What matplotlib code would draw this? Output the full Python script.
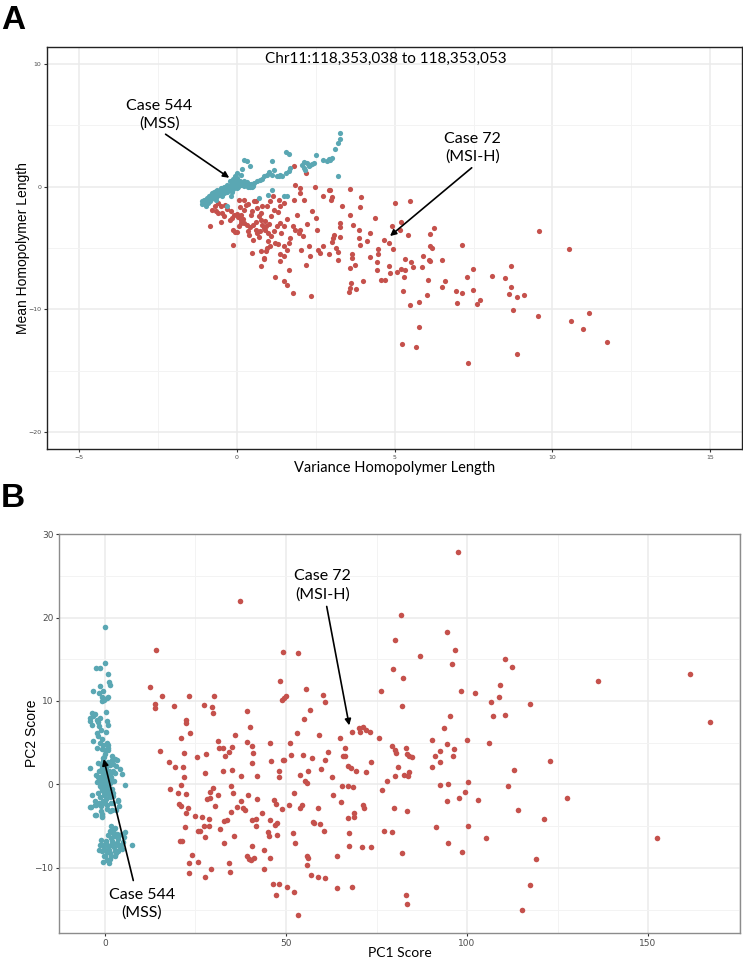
import matplotlib
matplotlib.use("Agg")
import matplotlib.pyplot as plt
import numpy as np

# ---------------- Panel A data (variance vs mean homopolymer length) ----------------
a_msi_x = [3.60, 2.97, 3.93, 3.02, 3.00, 5.02, 5.49, 3.33, 3.91, 3.60, 4.38, 3.26, 3.28, 3.68,
           5.21, 4.91, 3.88, 4.23, 5.18, 6.26, 6.11, 3.07, 3.04, 3.26, 3.87, 4.14, 4.68, 4.81,
           5.43, 3.02, 3.91, 4.47, 4.94, 6.12, 6.18, 7.15, 9.56, 10.52, 3.15, 3.20, 3.20, 3.65,
           3.66, 4.23, 4.47, 5.32, 5.52, 5.91, 6.08, 6.13, 6.50, 3.60, 3.74, 4.44, 4.81, 4.46,
           4.85, 5.07, 5.21, 5.32, 5.57, 5.87, 7.47, 7.28, 8.08, 8.49, 8.70, 5.29, 6.05, 6.60,
           6.49, 4.00, 4.57, 4.69, 3.61, 3.58, 3.56, 3.79, 5.26, 5.50, 5.77, 6.03, 6.96, 7.15,
           7.47, 6.98, 7.62, 7.70, 8.70, 8.62, 8.87, 9.11, 8.76, 9.53, 10.58, 10.98, 11.16, 5.76,
           5.24, 5.69, 7.33, 8.89, 11.74,
           -0.85, -0.50, -0.77, -0.64, -0.58, -0.46, -0.68, -0.50, -0.38, -0.19, -0.16, -0.21,
           -0.08, 0.03, 0.13, 0.11, 0.23, 0.23, 0.07, 0.36, -0.11, -0.06, 0.00, 0.09, 0.15, 0.23,
           0.34, 0.44, 0.53, 0.60, 0.70, 0.76, 0.81, 0.86, 0.94, 1.02, 0.76, 0.65, 0.60, -0.11,
           0.39, 0.53, 0.65, 0.74, 0.89, 1.00, 1.09, 1.18, 1.28, 1.39, 1.49, 0.49, 0.76, 0.86,
           0.93, 1.07, 1.21, 1.30, 1.39, 1.49, 1.60, 1.65, 0.77, 0.87, 1.23, 1.37, 1.49, 1.51,
           1.60, 1.78, 1.65, 0.97, 1.07, 1.16, 1.34, 1.37, 1.49, 1.81, 1.81, 1.86, 2.00, 2.02,
           2.12, 2.19, 1.91, 1.86, 1.97, 2.02, 2.10, 2.23, 2.04, 2.28, 2.21, 2.33, 2.36, 2.49,
           2.52, 2.54, 2.57, 2.65, 2.75, 2.73, 2.91, 2.91,
           0.30, 0.50, 0.80, 0.20, 0.45, 0.90, 1.10, 0.35, 0.60, 1.20, -0.30, -0.40, 0.00, 0.70,
           1.00, 1.40, 1.60, 1.80, 0.55, 1.30, -0.60, 0.15, 0.95, 1.70, 2.40]
a_msi_y = [-0.19, -0.30, -0.82, -0.84, -1.09, -1.36, -1.20, -1.61, -1.66, -2.31, -2.59, -2.94,
           -3.32, -3.10, -2.88, -3.24, -3.54, -3.76, -3.51, -3.37, -3.89, -3.92, -4.19, -4.14,
           -4.16, -4.46, -4.35, -4.60, -3.97, -4.54, -4.76, -5.09, -5.12, -4.82, -5.03, -4.79,
           -3.59, -5.06, -5.03, -5.36, -5.96, -5.85, -5.50, -5.71, -5.47, -5.90, -6.12, -5.69,
           -5.96, -6.10, -6.01, -6.64, -6.39, -6.12, -6.45, -6.80, -7.05, -6.99, -6.69, -6.80,
           -6.56, -6.56, -6.75, -7.40, -7.32, -7.46, -6.48, -7.40, -7.65, -7.67, -8.16, -7.70,
           -7.62, -7.62, -7.89, -8.27, -8.60, -8.38, -8.54, -9.66, -9.39, -8.87, -8.49, -8.65,
           -8.46, -9.47, -9.61, -9.22, -8.22, -8.79, -8.98, -8.82, -10.04, -10.53, -10.97,
           -11.65, -10.29, -11.48, -12.87, -13.09, -14.37, -13.63, -12.67,
           -3.18, -2.86, -1.88, -2.01, -2.15, -2.15, -1.61, -1.55, -1.47, -2.01, -2.56, -2.69,
           -2.29, -2.48, -2.29, -1.66, -1.88, -1.06, -1.06, -1.41, -3.51, -3.73, -3.73, -3.24,
           -2.69, -2.97, -3.10, -3.29, -3.10, -2.91, -2.42, -2.69, -3.10, -3.37, -3.18, -3.02,
           -2.15, -1.74, -1.20, -4.79, -3.92, -4.33, -3.78, -3.65, -3.56, -3.78, -4.05, -3.65,
           -3.24, -2.97, -3.18, -5.41, -5.28, -5.82, -5.28, -4.87, -4.60, -4.65, -5.50, -4.87,
           -5.14, -4.60, -6.50, -5.90, -7.37, -6.10, -5.69, -7.73, -8.00, -8.68, -6.78, -1.61,
           -1.20, -0.79, -1.06, -1.55, -1.33, -1.06, 1.71, 0.16, -0.11, -0.52, -1.06, 1.12,
           -2.29, -3.51, -3.78, -3.51, -4.05, -3.02, -5.14, -4.87, -6.37, -5.69, -8.95, -0.03,
           -2.56, -3.51, -5.14, -5.41, -0.79, -4.87, -0.24, -5.47,
           -1.50, -2.00, -1.60, -2.60, -2.30, -2.80, -2.40, -3.60, -3.50, -1.90, -1.80, -2.40,
           -2.20, -4.10, -4.40, -3.80, -2.60, -3.20, -1.20, -2.10, -1.30, -3.00, -5.00, -4.20,
           -2.00]

a_mss_x = [-1.03, -1.08, -0.98, -0.93, -0.87, -0.82, -0.77, -0.72, -0.66, -0.61, -0.56, -0.50,
           -0.45, -0.40, -0.35, -0.29, -0.24, -0.19, -0.14, -0.08, -0.03, 0.02, 0.07, 0.13, 0.18,
           0.23, 0.28, 0.34, 0.39, 0.44, -0.87, -0.77, -0.66, -0.98, -0.29, -0.19, -0.45, -0.61,
           0.00, 0.13, 0.23, 0.32, 0.44, 0.18, 0.53, 0.65, 0.74, 0.81, 0.86, 0.97, 1.02, 1.13,
           1.18, 1.34, 1.28, 1.39, 1.44, 1.55, 1.65, 1.68, 1.13, 0.99, 0.70, 1.13, 1.49, 1.60,
           1.55, 1.66, 2.07, 2.12, 2.18, 2.23, 2.28, 2.33, 2.39, 2.44, 2.15, 2.51, 2.73, 2.86,
           2.91, 2.97, 3.02, 3.12, 3.20, 3.26, 3.28, 3.21,
           -1.00, -0.95, -0.90, -0.85, -0.80, -0.75, -0.70, -0.65, -0.60, -0.55, -0.50, -0.45,
           -0.40, -0.35, -0.30, -0.25, -0.20, -0.15, -0.10, -0.05, 0.00, 0.05, 0.10, 0.15, 0.20,
           0.25, 0.30, 0.35, -0.60, -0.50, -0.40, -0.30, -0.20, -0.10, 0.00, -0.70, -0.80, -0.90,
           -1.10, -0.15, 0.05, 0.20, 0.00, -0.10, -0.05, 0.45, 0.55, 0.50,
           -0.95, -0.85, -0.75, -0.65, -0.55, -0.45, -0.35, -0.25, -0.15, -0.05, 0.05, 0.15,
           0.25, 0.40, -0.70, -0.50, -0.30, -0.10, 0.10, -0.20]
a_mss_y = [-1.06, -1.20, -1.33, -0.93, -0.79, -0.65, -0.52, -0.79, -0.38, -0.24, -0.52, -0.11,
           -0.38, -0.03, -0.24, 0.08, -0.11, 0.16, -0.03, 0.30, 0.08, 0.44, 0.16, 0.35, 0.24,
           0.44, 0.30, 0.35, 0.16, -0.03, -1.20, -0.93, -1.06, -1.55, -1.61, -0.79, -0.79, -0.79,
           1.12, 0.98, 2.20, 2.07, 1.66, 1.44, 0.08, 0.44, 0.52, 0.63, 0.84, 0.98, 1.17, 0.98,
           1.39, 0.84, 0.90, 0.98, 0.90, 1.12, 1.25, 1.52, 2.07, -0.65, -0.93, -0.24, -0.79, -0.73,
           2.80, 2.69, 1.80, 1.52, 1.33, 1.93, 1.66, 1.80, 1.88, 1.93, 1.99, 2.61, 2.20, 2.12,
           2.26, 2.20, 2.34, 3.07, 3.56, 3.89, 4.38, 0.84,
           -1.20, -1.00, -1.10, -0.90, -0.80, -0.70, -0.60, -0.60, -0.50, -0.40, -0.40, -0.30,
           -0.20, -0.10, -0.10, 0.00, 0.00, 0.10, 0.10, 0.20, 0.20, 0.30, 0.20, 0.10, 0.10,
           0.20, 0.10, 0.00, -0.70, -0.60, -0.50, -0.40, -0.30, -0.20, -0.10, -0.90, -1.00, -1.30,
           -1.40, -0.40, 0.00, 0.30, 0.70, 0.60, 0.85, 0.20, 0.30, 0.00,
           -1.25, -1.15, -0.95, -0.85, -0.70, -0.60, -0.45, -0.30, -0.15, 0.00, 0.10, 0.25,
           0.05, 0.25, -0.40, -0.20, 0.10, 0.35, 0.50, 0.45]

# ---------------- Panel B data (PCA scores) ----------------
b_msi_x = [12.45, 14.15, 13.76, 13.9, 15.86, 15.33, 19.0, 17.56, 18.09, 19.4, 20.2, 21.1, 21.8,
           20.9, 22.3, 22.5, 23.3, 23.6, 21.5, 21.8, 20.4, 21.1, 22.5, 22.9, 22.4, 21.4, 20.7,
           22.2, 23.2, 23.3, 24.0, 25.4, 24.9, 25.6, 25.7, 26.3, 26.9, 27.3, 27.5, 27.4, 27.5,
           27.5, 28.0, 28.2, 28.6, 28.7, 29.4, 29.6, 29.9, 30.0, 29.1, 29.1, 29.9, 30.3, 31.2,
           31.5, 31.2, 31.8, 32.5, 32.5, 32.8, 33.0, 33.2, 33.6, 34.2, 34.3, 34.5, 34.7, 34.9,
           35.1, 35.1, 35.4, 35.5, 35.9, 36.4, 37.2, 37.5, 37.7, 38.1, 38.7, 39.1, 39.1, 39.4,
           39.3, 39.7, 40.1, 40.2, 40.5, 40.7, 40.7, 40.9, 40.7, 41.2, 41.7, 41.8, 41.9, 42.1,
           43.5, 43.8, 43.9, 45.0, 45.2, 45.5, 45.6, 45.6, 45.9, 46.5, 46.7, 47.2, 46.9, 47.4,
           47.4, 47.3, 48.0, 48.2, 48.2, 48.4, 48.8, 49.1, 49.5, 49.0, 49.1, 49.5, 49.9, 50.2,
           50.9, 51.1, 51.4, 51.9, 52.2, 52.3, 52.4, 53.1, 53.2, 53.4, 53.8, 54.0, 54.4, 54.8,
           54.9, 55.2, 55.4, 55.7, 56.1, 55.8, 56.1, 55.8, 56.6, 57.0, 57.3, 57.4, 57.7, 58.7,
           58.8, 59.1, 59.4, 59.8, 60.3, 60.7, 60.7, 60.8, 60.5, 61.7, 62.7, 63.0, 64.2, 64.2,
           64.9, 65.3, 65.6, 65.8, 66.3, 66.3, 67.1, 67.2, 67.2, 67.5, 67.5, 67.9, 68.3, 68.5,
           68.3, 68.9, 68.9, 69.2, 70.1, 70.5, 70.9, 71.2, 71.2, 71.6, 72.1, 72.2, 73.1, 73.4,
           73.5, 75.8, 76.3, 76.5, 77.1, 77.9, 79.4, 79.4, 79.6, 79.8, 80.1, 80.1, 80.2, 80.5,
           81.0, 81.8, 81.9, 82.0, 82.3, 82.7, 83.1, 83.2, 83.4, 83.4, 83.4, 83.6, 84.0, 83.9,
           84.9, 87.0, 90.4, 90.4, 91.2, 91.5, 92.5, 92.5, 92.4, 93.6, 94.5, 94.4, 94.4, 94.7,
           94.8, 95.4, 95.8, 96.1, 96.5, 96.6, 97.4, 97.8, 98.3, 98.7, 99.3, 100.1, 100.3, 100.4,
           102.2, 103.1, 105.2, 106.1, 106.7, 107.2, 109.0, 108.8, 110.4, 110.4, 111.3, 112.3,
           112.9, 114.2, 115.1, 117.3, 117.5, 119.0, 121.2, 122.9, 127.7, 136.3, 152.6, 161.5,
           167.0]
b_msi_y = [11.67, 16.14, 9.63, 9.15, 10.55, 4.04, 9.39, 2.68, -0.56, 2.04, -1.08, 5.55, 3.76,
           -0.12, 7.67, 7.35, 10.55, 6.15, 2.08, 0.88, -2.36, -2.56, -1.16, -2.84, -3.44, -6.79,
           -6.83, -5.15, -9.43, -10.63, -8.51, 3.24, -3.76, -5.55, -9.27, -5.63, -3.84, 9.47,
           1.36, -4.95, -6.35, -11.03, 3.64, -1.72, -5.03, -4.08, -10.15, 9.23, 8.55, 10.55,
           -0.96, -1.64, -0.44, -2.64, 5.19, 4.35, -1.32, -5.35, 4.31, 1.60, -4.43, -7.03, 3.40,
           -4.23, 3.84, -9.43, -10.43, -0.24, -3.36, 4.43, 1.76, -1.04, -6.15, 5.95, -2.76,
           21.97, 1.04, -2.04, -2.84, -3.04, 8.79, 5.11, -1.24, -8.55, -8.95, 6.91, -9.11, -7.43,
           4.55, 2.56, 3.76, -4.23, -8.87, -5.03, -4.08, 0.96, -1.72, -3.44, -7.83, -10.15,
           -5.75, -6.23, 4.99, -4.23, -8.83, 2.76, -11.95, -1.84, -2.36, -4.83, -4.63, -6.03,
           -13.22, -11.91, 1.56, 0.88, 12.43, 10.15, 15.86, 10.35, -2.96, 2.92, 2.88, 10.55,
           -12.31, -2.44, 4.95, 3.48, -5.83, -12.91, -1.04, -7.03, 6.15, -15.62, 15.78, 1.16,
           -2.80, -2.44, 3.48, 7.83, 0.36, 11.39, 0.16, 1.64, -9.63, -8.83, -8.55, 8.87, -10.83,
           3.12, -4.55, -4.63, -2.84, -11.11, 5.95, -4.71, 1.84, 10.71, 9.83, 2.96, -11.15,
           -5.59, 3.84, 0.88, -1.28, -8.63, -12.43, 5.51, -2.08, -0.24, 3.36, 4.31, 3.36, 2.24,
           -4.04, -0.16, -5.83, -7.43, 2.00, 6.27, -0.36, -12.27, -3.84, -3.44, 1.60, 6.75, 6.23,
           -7.55, 6.83, -2.44, -2.84, 6.47, 1.44, 6.27, 2.72, -7.51, 5.51, 11.19, -0.72, -5.63,
           0.36, 4.63, -5.71, 13.86, -2.88, 17.34, 4.08, 0.96, 3.76, 2.08, 20.30, 9.43, -8.23,
           12.78, 1.16, 4.31, -13.30, -3.24, -14.30, 3.68, 1.00, 1.52, 3.36, 3.24, 15.34, 5.27,
           2.08, 3.36, -5.15, 2.68, 4.04, -0.04, 6.71, 18.26, 4.83, -1.96, -7.03, 0.04, 8.23,
           14.38, 3.40, 4.27, 16.10, 27.85, -1.60, 11.15, -8.15, -0.92, 5.27, -5.03, 0.28, 10.95,
           -1.92, -6.43, 4.91, 9.87, 8.23, 11.87, 10.47, 14.98, 8.27, -0.16, 14.10, 1.68, -3.08,
           -15.10, -12.03, 9.59, -8.95, -4.08, 2.80, -1.60, 12.39, -6.47, 13.22, 7.47]

b_mss_x = [0.09, 0.09, -2.49, -1.38, 0.92, 1.20, 1.38, -3.41, -1.38, -1.57, -0.46, -0.92, 0.46,
           0.92, -0.92, -0.28, -3.68, -3.22, -4.14, -4.14, -2.76, -2.30, -1.84, -1.38, 0.28,
           0.46, 0.74, -3.68, -1.57, -1.10, -2.30, 0.28, -3.22, -1.84, -0.92, -1.38, -0.46,
           0.46, 0.92, -2.30, -0.92, 0.00, 0.92, -0.64, 1.84, 2.76, 3.22, 2.30, 3.04, -4.14,
           4.14, 4.60, 5.43, 2.76, 2.30, 1.38, -3.50, -3.96, -2.49, -0.83, -2.49, 3.68, 3.96,
           2.30, 1.84, 2.30, -2.88, -4.19, -2.62, -0.92, 1.31, 3.67, 3.01, 2.10, 0.79,
           -0.66, 1.31, 0.13, -1.31, -0.92, 1.05, 2.36, 3.41, 4.33, 5.24, 7.34, 5.64, 4.72,
           3.41, 2.36, 1.70, 2.62, 1.57, 0.39, 1.83, 3.01, -0.26, 0.79, 1.70, 3.67, 2.10, 1.31,
           -0.52, 0.52, -1.57, 1.70, 2.75, 3.93, 4.98,
           -1.2, -0.8, -0.4, 0.0, 0.5, -1.0, -0.5, 0.3, -0.9, 0.8, -0.2, 1.2, -1.5, 0.6, -0.7,
           0.2, 1.0, -1.3, 0.0, -0.3, 0.9, -1.8, 1.6, -0.6, 0.4, -1.0, 0.7, -0.2, 1.5, -2.0,
           -1.6, 0.1, -0.9, 1.3, 2.0, -0.4, 0.6, -1.2, 2.2, -2.3,
           -1.7, -0.5, 1.1, -1.1, 0.4, -0.1, 1.8, -2.5, 0.9, -0.6, 0.2, 1.4, -1.4, 0.6, -0.3,
           2.5, -2.7, 1.9, -1.9, 0.0, -0.8, 0.7,
           0.6, 1.5, 2.7, 3.1, 4.0, 2.1, 0.9, -0.4, 1.0, 3.6, 4.6, 2.8, 0.2, -1.0]
b_mss_y = [18.88, 14.53, 13.93, 14.01, 13.21, 12.22, 11.94, 11.22, 11.74, 10.94, 11.14, 10.46,
           10.38, 10.46, 9.94, 10.14, 8.54, 8.22, 7.94, 7.55, 8.46, 7.74, 7.43, 7.94, 8.62,
           7.55, 7.15, 7.15, 6.95, 6.55, 6.15, 6.23, 5.15, 5.75, 5.43, 4.95, 4.75, 4.95, 4.75,
           4.35, 4.23, 4.07, 4.15, 3.15, 3.35, 3.03, 2.87, 2.48, 2.16, 1.92, 1.84, 1.20, -0.12,
           1.36, 0.36, 0.16, -1.28, -2.71, -2.51, -3.75, -3.67, -1.92, -2.63, -2.24, -3.03,
           -1.04, -2.44, -2.76, -3.64, -3.84, -3.24, -2.04, -3.04, -1.44, -1.04,
           -9.35, -8.95, -8.55, -7.31, -8.03, -7.91, -7.55, -7.03, -7.23, -6.31, -7.27, -5.75,
           -5.95, -5.91, -5.35, -5.03, -6.23, -6.43, -6.83, -6.83, -8.23, -7.75, -7.43, -7.23,
           -6.55, -5.83, -5.63, -7.23, -8.15, -7.91, -8.55, -7.95, -7.43, -6.95,
           2.5, 2.0, 1.6, 1.2, 0.8, 0.4, 0.0, -0.3, -0.7, -1.0, -1.3, -0.4, -0.2, 0.3, 1.0, 2.2,
           1.6, -1.5, -0.6, 0.7, 0.0, 0.9, 0.9, -2.0, -1.8, -2.6, 2.7, 3.3, -1.5, -1.0, 1.6,
           0.1, 1.8, 2.3, -0.6, -0.9, -2.5, -3.2, 1.6, 0.3,
           -2.2, 2.8, 0.5, -0.3, 1.9, -2.2, -2.2, 1.1, -0.6, 1.4, -1.1, 1.2, 0.6, -3.0, -0.1,
           0.4, -2.0, 2.9, 2.6, 3.7, -3.5, 4.4,
           -9.0, -8.2, -8.6, -6.2, -6.0, -7.0, -6.1, -8.6, -9.4, -8.0, -7.7, -5.2, -7.0, -6.6]

red = '#C5514C'
teal = '#5AA7B3'
ann_font = ['Lato', 'DejaVu Sans']

fig = plt.figure(figsize=(7.43, 9.61), dpi=100)


def style_axes(ax, frame_col, tick_size):
    ax.set_facecolor('white')
    ax.grid(which='major', color='#EBEBEB', lw=1.1, zorder=0)
    ax.grid(which='minor', color='#F3F3F3', lw=0.7, zorder=0)
    ax.set_axisbelow(True)
    for s in ax.spines.values():
        s.set_color(frame_col)
        s.set_linewidth(1.0)
    ax.tick_params(which='major', length=2.5, width=0.8, color='#333333',
                   labelsize=tick_size, labelcolor='#4D4D4D', pad=1.5)
    ax.tick_params(which='minor', length=0)


# ---------------- Panel A ----------------
axA = fig.add_axes([0.0633, 0.5328, 0.9354, 0.4183])
axA.scatter(a_msi_x, a_msi_y, s=14, color=red, lw=0, zorder=3)
axA.scatter(a_mss_x, a_mss_y, s=14, color=teal, lw=0, zorder=3)
axA.set_xlim(-6.0, 16.0)
axA.set_ylim(-21.4, 11.4)
axA.set_xticks([-5, 0, 5, 10, 15])
axA.set_xticks([-2.5, 2.5, 7.5, 12.5], minor=True)
axA.set_yticks([-20, -10, 0, 10])
axA.set_yticks([-15, -5, 5], minor=True)
style_axes(axA, '#222222', 4.5)
axA.set_xlabel('Variance Homopolymer Length', fontsize=10.5, family=ann_font, labelpad=1)
axA.set_ylabel('Mean Homopolymer Length', fontsize=10, family=['Liberation Sans', 'DejaVu Sans'],
               labelpad=-1)
axA.text(4.72, 10.4, 'Chr11:118,353,038 to 118,353,053', ha='center', va='center',
         fontsize=11, family=ann_font)
axA.annotate('', xy=(-0.16, 0.6), xytext=(-2.32, 4.41),
             arrowprops=dict(arrowstyle='-|>', color='black', lw=1.2, mutation_scale=9))
axA.text(-2.44, 5.9, 'Case 544\n(MSS)', ha='center', va='center', fontsize=11.5,
         family=ann_font, linespacing=1.3)
axA.annotate('', xy=(4.79, -4.17), xytext=(7.51, 1.69),
             arrowprops=dict(arrowstyle='-|>', color='black', lw=1.2, mutation_scale=9))
axA.text(7.47, 3.2, 'Case 72\n(MSI-H)', ha='center', va='center', fontsize=11.5,
         family=ann_font, linespacing=1.3)

# ---------------- Panel B ----------------
axB = fig.add_axes([0.0794, 0.0291, 0.9166, 0.4152])
axB.scatter(b_msi_x, b_msi_y, s=16, color=red, lw=0, zorder=3)
axB.scatter(b_mss_x, b_mss_y, s=16, color=teal, lw=0, zorder=3)
axB.set_xlim(-12.7, 175.4)
axB.set_ylim(-17.8, 30.0)
axB.set_xticks([0, 50, 100, 150])
axB.set_xticks([25, 75, 125, 175], minor=True)
axB.set_yticks([-10, 0, 10, 20, 30])
axB.set_yticks([-15, -5, 5, 15, 25], minor=True)
style_axes(axB, '#8C8C8C', 6.5)
axB.set_xlabel('PC1 Score', fontsize=10, family=ann_font, labelpad=-0.5)
axB.set_ylabel('PC2 Score', fontsize=10, family=['Liberation Sans', 'DejaVu Sans'], labelpad=-3)
axB.annotate('', xy=(67.6, 6.75), xytext=(61.1, 21.65),
             arrowprops=dict(arrowstyle='-|>', color='black', lw=1.2, mutation_scale=9))
axB.text(60.0, 23.85, 'Case 72\n(MSI-H)', ha='center', va='center', fontsize=11.5,
         family=ann_font, linespacing=1.3)
axB.annotate('', xy=(-0.52, 3.36), xytext=(8.0, -11.83),
             arrowprops=dict(arrowstyle='-|>', color='black', lw=1.2, mutation_scale=9))
axB.text(10.2, -14.34, 'Case 544\n(MSS)', ha='center', va='center', fontsize=11.5,
         family=ann_font, linespacing=1.3)

# panel letters
fig.text(0.001, 0.995, 'A', fontsize=24, fontweight='bold', va='top', ha='left',
         family=['Liberation Sans', 'DejaVu Sans'])
fig.text(0.001, 0.497, 'B', fontsize=24, fontweight='bold', va='top', ha='left',
         family=['Liberation Sans', 'DejaVu Sans'])

fig.savefig('out.png', dpi=100)
